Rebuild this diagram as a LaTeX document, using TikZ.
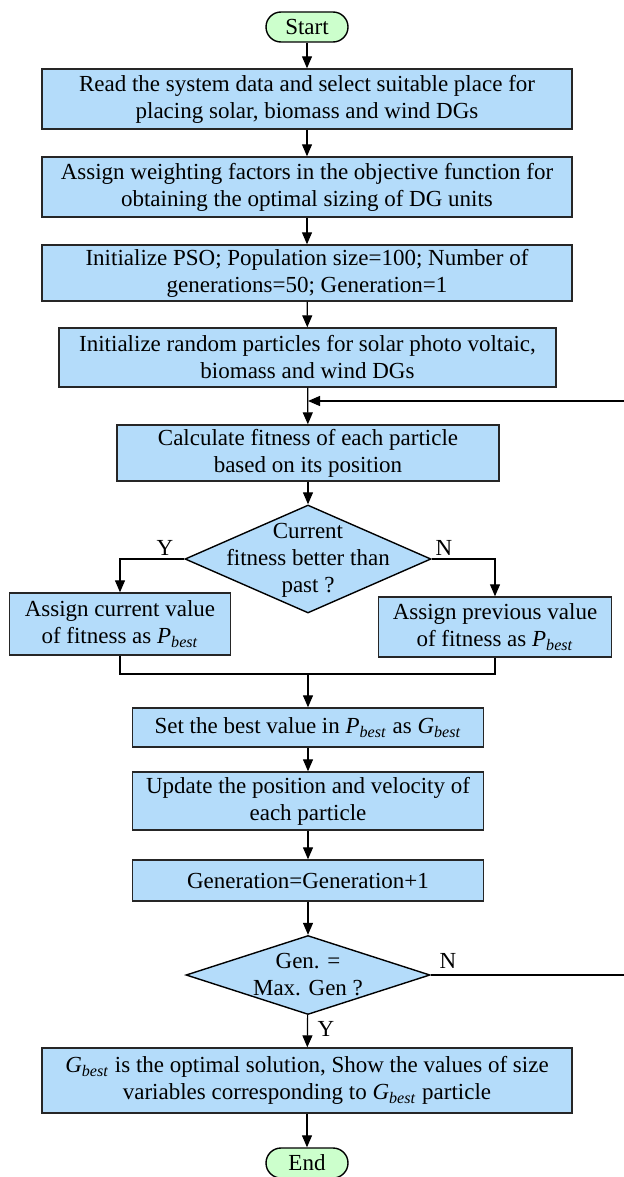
\documentclass[tikz,border=0pt]{standalone}
\usepackage{fontspec}
\setmainfont{Liberation Serif}
\usetikzlibrary{shapes.geometric,arrows.meta}
\definecolor{boxblue}{RGB}{180,220,250}
\definecolor{termgreen}{RGB}{204,255,204}
\newcommand{\pbest}{\textit{P}\textsubscript{\textit{best}}}
\newcommand{\gbest}{\textit{G}\textsubscript{\textit{best}}}

\begin{document}
\begin{tikzpicture}[x=0.5pt, y=-0.5pt, >={Triangle[length=6pt,width=5pt]},
  every node/.style={font=\fontsize{11.5}{13.5}\selectfont},
  proc/.style={draw=black!85, line width=0.7pt, fill=boxblue, inner sep=0pt, align=center},
  term/.style={draw=black, line width=0.7pt, fill=termgreen, rounded corners=7.5pt, inner sep=0pt, minimum width=41pt, minimum height=15pt},
  decision/.style={draw=black, line width=0.7pt, fill=boxblue, diamond, inner sep=0pt},
  line/.style={line width=0.6pt}]

\useasboundingbox (0,0) rectangle (624,1177);

\node[term] (start) at (307,27) {Start};
\node[proc, minimum width=265pt, minimum height=30pt] (box1) at (307,99) {Read the system data and select suitable place for\\placing solar, biomass and wind DGs};
\node[proc, minimum width=265pt, minimum height=30pt] (box2) at (307,187) {Assign weighting factors in the objective function for\\obtaining the optimal sizing of DG units};
\node[proc, minimum width=265pt, minimum height=28pt] (box3) at (307,273) {Initialize PSO; Population size=100; Number of\\generations=50; Generation=1};
\node[proc, minimum width=248.5pt, minimum height=29.5pt] (box4) at (307.5,357.5) {Initialize random particles for solar photo voltaic,\\biomass and wind DGs};
\node[proc, minimum width=191pt, minimum height=28pt] (calc) at (308,453) {Calculate fitness of each particle\\based on its position};
\node[decision, minimum width=123pt, minimum height=54pt] (dec1) at (308,559) {};
\node[align=center, inner sep=0pt] (dec1txt) at (308,560) {Current\\fitness better than\\past ?};
\node[proc, minimum width=110.5pt, minimum height=31pt] (lbox) at (120,624) {Assign current value\\of fitness as \pbest};
\node[proc, minimum width=116.5pt, minimum height=30pt] (rbox) at (495,627) {Assign previous value\\of fitness as \pbest};
\node[proc, minimum width=175.5pt, minimum height=19.5pt] (setbest) at (308,727.5) {Set the best value in \pbest{} as \gbest};
\node[proc, minimum width=175.5pt, minimum height=29pt] (update) at (308,801) {Update the position and velocity of\\each particle};
\node[proc, minimum width=175.5pt, minimum height=20.5pt] (gen) at (308,880.5) {Generation=Generation+1};
\node[decision, minimum width=122pt, minimum height=39.5pt] (dec2) at (308,975) {};
\node[align=center, inner sep=0pt] (dec2txt) at (308,975) {Gen. =\\Max. Gen ?};
\node[proc, minimum width=265pt, minimum height=32.5pt] (final) at (307,1080.5) {\gbest{} is the optimal solution, Show the values of size\\variables corresponding to \gbest{} particle};
\node[term] (end) at (307,1163) {End};

\node (ylab1) at (165,548) {Y};
\node (nlab1) at (444,548) {N};
\node (nlab2) at (448,961) {N};
\node (ylab2) at (326,1029) {Y};

\coordinate (merge) at (308,674);
\coordinate (loopin) at (308,401);
\coordinate (loopcorner) at (630,975);

\draw[line,->] (start) -- (box1);
\draw[line,->] (box1) -- (box2);
\draw[line,->] (box2) -- (box3);
\draw[line,->] (box3) -- (box4);
\draw[line,->] (box4) -- (calc);
\draw[line,->] (calc) -- (dec1);
\draw[line,->] (dec1.west) -| (lbox.north);
\draw[line,->] (dec1.east) -| (rbox.north);
\draw[line] (lbox.south) |- (merge) -| (rbox.south);
\draw[line,->] (merge) -- (setbest);
\draw[line,->] (setbest) -- (update);
\draw[line,->] (update) -- (gen);
\draw[line,->] (gen) -- (dec2);
\draw[line,->] (dec2) -- (final);
\draw[line,->] (final) -- (end);
\draw[line,->] (dec2.east) -- (loopcorner) |- (loopin);

\end{tikzpicture}
\end{document}
